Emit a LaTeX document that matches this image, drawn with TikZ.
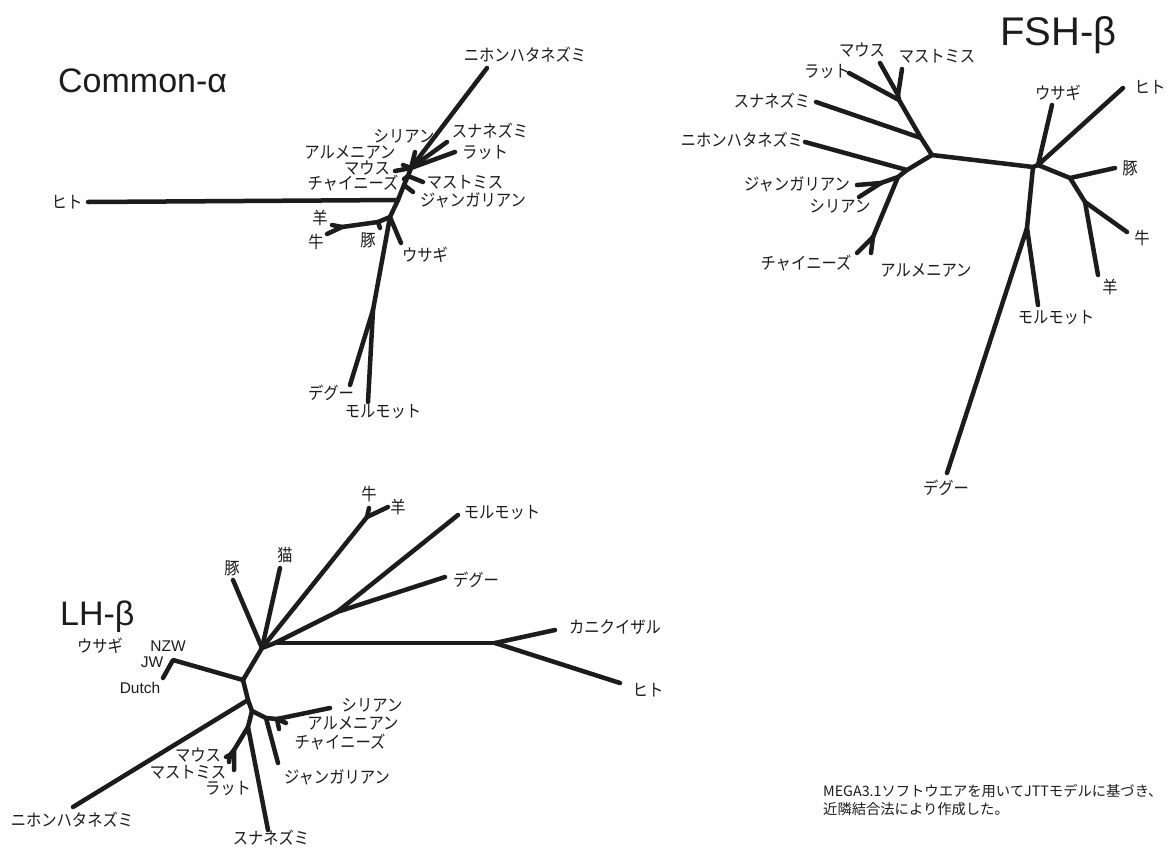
\documentclass[tikz,border=0pt]{standalone}
\usepackage{fontspec}
\setmainfont{Liberation Sans}
\newfontfamily\jp[FakeStretch=0.9]{Noto Sans CJK JP}
\newfontfamily\jpnote{Noto Sans CJK JP}
\definecolor{ink}{HTML}{1C1C1C}
\begin{document}
\begin{tikzpicture}[x=1pt,y=-1pt,
  branch/.style={line width=4.5pt, draw=ink, line cap=round, line join=round},
  lab/.style={font=\jp\fontsize{17}{20}\selectfont, inner sep=0pt, text=ink},
  latin/.style={font=\fontsize{15.5}{18}\selectfont, inner sep=0pt, text=ink},
  heading/.style={font=\fontsize{34}{40}\selectfont, inner sep=0pt, anchor=base west, text=ink}]
\useasboundingbox[fill=white] (0,0) rectangle (1172,849);

% ---------------- Common-alpha ----------------
\node[heading] (tA) at (58,92) {Common-α};
\coordinate (aR) at (411,168);
\coordinate (aNihon) at (487,68);
\coordinate (aSuna) at (447,142);
\coordinate (aRat) at (455,152);
\coordinate (aSyr) at (415,152);
\coordinate (aArm) at (403,165);
\coordinate (aMouse) at (395,171);
\coordinate (aS1) at (408,176);
\coordinate (aChin) at (404,179);
\coordinate (aMast) at (423,182);
\coordinate (aS2) at (404,185);
\coordinate (aJung) at (413,192);
\coordinate (aS3) at (398,200);
\coordinate (aHito) at (88,202);
\coordinate (aS4) at (390,217);
\coordinate (aPigN) at (378,222);
\coordinate (aPig) at (380,228);
\coordinate (aSC) at (342,227);
\coordinate (aSheep) at (332,225);
\coordinate (aCow) at (327,234);
\coordinate (aRabbit) at (401,243);
\coordinate (aS5) at (373,310);
\coordinate (aDegu) at (350,385);
\coordinate (aGuinea) at (368,402);

\draw[branch] (aR) -- (aNihon);
\draw[branch] (aR) -- (aSuna);
\draw[branch] (aR) -- (aRat);
\draw[branch] (aR) -- (aSyr);
\draw[branch] (aR) -- (aArm);
\draw[branch] (aR) -- (aMouse);
\draw[branch] (aR) -- (aS1) -- (aS2) -- (aS3) -- (aS4) -- (aS5);
\draw[branch] (aS1) -- (aChin);
\draw[branch] (aS1) -- (aMast);
\draw[branch] (aS2) -- (aJung);
\draw[branch] (aS3) -- (aHito);
\draw[branch] (aS4) -- (aPigN) -- (aSC);
\draw[branch] (aPigN) -- (aPig);
\draw[branch] (aSC) -- (aSheep);
\draw[branch] (aSC) -- (aCow);
\draw[branch] (aS4) -- (aRabbit);
\draw[branch] (aS5) -- (aDegu);
\draw[branch] (aS5) -- (aGuinea);

\node[lab] (laNihon) at (525,55) {ニホンハタネズミ};
\node[lab] (laSuna) at (490,131) {スナネズミ};
\node[lab] (laRat) at (485,153) {ラット};
\node[lab] (laSyr) at (404,136) {シリアン};
\node[lab] (laArm) at (350,152) {アルメニアン};
\node[lab] (laMouse) at (367,168) {マウス};
\node[lab] (laChin) at (353,183) {チャイニーズ};
\node[lab] (laMast) at (465,182) {マストミス};
\node[lab] (laJung) at (473,200) {ジャンガリアン};
\node[lab] (laHito) at (67,202) {ヒト};
\node[lab] (laSheep) at (320,218) {羊};
\node[lab] (laCow) at (316,242) {牛};
\node[lab] (laPig) at (368,240) {豚};
\node[lab] (laRabbit) at (425,255) {ウサギ};
\node[lab] (laDegu) at (331,393) {デグー};
\node[lab] (laGuinea) at (383,412) {モルモット};

% ---------------- FSH-beta ----------------
\node[heading, font=\fontsize{40}{46}\selectfont] (tF) at (1000,45) {FSH-β};
\coordinate (fR1) at (932,155);
\coordinate (fN1) at (921,138);
\coordinate (fN2) at (899,100);
\coordinate (fN3) at (898,95);
\coordinate (fMouse) at (880,63);
\coordinate (fMast) at (902,69);
\coordinate (fRat) at (849,73);
\coordinate (fSuna) at (816,102);
\coordinate (fN4) at (907,170);
\coordinate (fNihon) at (805,142);
\coordinate (fN5) at (898,177);
\coordinate (fN6) at (881,183);
\coordinate (fJung) at (857,185);
\coordinate (fSyr) at (859,197);
\coordinate (fN7) at (873,237);
\coordinate (fChin) at (857,253);
\coordinate (fArm) at (871,253);
\coordinate (fR2) at (1033,167);
\coordinate (fR3) at (1038,165);
\coordinate (fRabbit) at (1052,105);
\coordinate (fHuman) at (1123,88);
\coordinate (fP) at (1070,178);
\coordinate (fPig) at (1115,168);
\coordinate (fC) at (1085,202);
\coordinate (fCow) at (1127,232);
\coordinate (fSheep) at (1098,275);
\coordinate (fD) at (1027,228);
\coordinate (fGuinea) at (1038,305);
\coordinate (fDegu) at (947,473);

\draw[branch] (fR1) -- (fN1) -- (fN2) -- (fN3);
\draw[branch] (fN3) -- (fMouse);
\draw[branch] (fN3) -- (fMast);
\draw[branch] (fN2) -- (fRat);
\draw[branch] (fN1) -- (fSuna);
\draw[branch] (fR1) -- (fN4) -- (fNihon);
\draw[branch] (fN4) -- (fN5) -- (fN6);
\draw[branch] (fN6) -- (fJung);
\draw[branch] (fN6) -- (fSyr);
\draw[branch] (fN5) -- (fN7);
\draw[branch] (fN7) -- (fChin);
\draw[branch] (fN7) -- (fArm);
\draw[branch] (fR1) -- (fR2) -- (fR3);
\draw[branch] (fR3) -- (fRabbit);
\draw[branch] (fR3) -- (fHuman);
\draw[branch] (fR3) -- (fP) -- (fPig);
\draw[branch] (fP) -- (fC) -- (fCow);
\draw[branch] (fC) -- (fSheep);
\draw[branch] (fR2) -- (fD) -- (fGuinea);
\draw[branch] (fD) -- (fDegu);

\node[lab] (lfMouse) at (862,50) {マウス};
\node[lab] (lfMast) at (937,56) {マストミス};
\node[lab] (lfRat) at (827,72) {ラット};
\node[lab] (lfSuna) at (772,101) {スナネズミ};
\node[lab] (lfNihon) at (742,140) {ニホンハタネズミ};
\node[lab] (lfJung) at (797,184) {ジャンガリアン};
\node[lab] (lfSyr) at (840,206) {シリアン};
\node[lab] (lfChin) at (806,263) {チャイニーズ};
\node[lab] (lfArm) at (926,270) {アルメニアン};
\node[lab] (lfRabbit) at (1058,93) {ウサギ};
\node[lab] (lfHuman) at (1150,87) {ヒト};
\node[lab] (lfPig) at (1130,168) {豚};
\node[lab] (lfCow) at (1142,238) {牛};
\node[lab] (lfSheep) at (1110,287) {羊};
\node[lab] (lfGuinea) at (1056,318) {モルモット};
\node[lab] (lfDegu) at (946,488) {デグー};

% ---------------- LH-beta ----------------
\node[heading] (tL) at (60,625) {LH-β};
\coordinate (lH1) at (262,648);
\coordinate (lH1a) at (275,643);
\coordinate (lPig) at (233,580);
\coordinate (lCat) at (280,568);
\coordinate (lUng) at (367,517);
\coordinate (lCow) at (369,508);
\coordinate (lSheep) at (388,507);
\coordinate (lMD) at (337,612);
\coordinate (lGuinea) at (458,515);
\coordinate (lDegu) at (445,577);
\coordinate (lPrim) at (495,643);
\coordinate (lMacaca) at (555,630);
\coordinate (lHuman) at (620,683);
\coordinate (lH2) at (243,680);
\coordinate (lRab) at (173,660);
\coordinate (lDutch) at (163,678);
\coordinate (lH3) at (248,700);
\coordinate (lNihon) at (73,807);
\coordinate (lH4) at (252,711);
\coordinate (lH5) at (266,718);
\coordinate (lJung) at (278,763);
\coordinate (lH6) at (277,719);
\coordinate (lSyr) at (330,708);
\coordinate (lArm) at (286,723);
\coordinate (lChin) at (279,729);
\coordinate (lH7) at (248,727);
\coordinate (lSuna) at (268,830);
\coordinate (lM1) at (234,750);
\coordinate (lRat) at (234,770);
\coordinate (lM2) at (230,755);
\coordinate (lMouse) at (226,757);
\coordinate (lMast) at (229,762);

\draw[branch] (lH1) -- (lPig);
\draw[branch] (lH1) -- (lCat);
\draw[branch] (lH1) -- (lUng);
\draw[branch] (lUng) -- (lCow);
\draw[branch] (lUng) -- (lSheep);
\draw[branch] (lH1) -- (lH1a) -- (lMD);
\draw[branch] (lMD) -- (lGuinea);
\draw[branch] (lMD) -- (lDegu);
\draw[branch] (lH1a) -- (lPrim);
\draw[branch] (lPrim) -- (lMacaca);
\draw[branch] (lPrim) -- (lHuman);
\draw[branch] (lH1) -- (lH2) -- (lRab) -- (lDutch);
\draw[branch] (lH2) -- (lH3) -- (lNihon);
\draw[branch] (lH3) -- (lH4) -- (lH5) -- (lJung);
\draw[branch] (lH5) -- (lH6) -- (lSyr);
\draw[branch] (lH6) -- (lArm);
\draw[branch] (lH6) -- (lChin);
\draw[branch] (lH4) -- (lH7) -- (lSuna);
\draw[branch] (lH7) -- (lM1) -- (lRat);
\draw[branch] (lM1) -- (lM2) -- (lMouse);
\draw[branch] (lM2) -- (lMast);

\node[lab] (llCow) at (369,494) {牛};
\node[lab] (llSheep) at (398,507) {羊};
\node[lab] (llGuinea) at (502,513) {モルモット};
\node[lab] (llCat) at (285,555) {猫};
\node[lab] (llPig) at (232,568) {豚};
\node[lab] (llDegu) at (476,580) {デグー};
\node[lab] (llMacaca) at (615,627) {カニクイザル};
\node[lab] (llHuman) at (648,690) {ヒト};
\node[lab] (llRabbit) at (100,646) {ウサギ};
\node[latin] (llNZW) at (168,646) {NZW};
\node[latin] (llJW) at (152,662) {JW};
\node[latin] (llDutch) at (140,688) {Dutch};
\node[lab] (llSyr) at (372,705) {シリアン};
\node[lab] (llArm) at (353,723) {アルメニアン};
\node[lab] (llChin) at (340,742) {チャイニーズ};
\node[lab] (llJung) at (337,777) {ジャンガリアン};
\node[lab] (llMouse) at (198,755) {マウス};
\node[lab] (llMast) at (188,772) {マストミス};
\node[lab] (llRat) at (228,789) {ラット};
\node[lab] (llNihon) at (72,820) {ニホンハタネズミ};
\node[lab] (llSuna) at (271,838) {スナネズミ};

% ---------------- method note ----------------
\node[font=\jpnote\fontsize{14.3}{18}\selectfont, inner sep=0pt, anchor=north west, align=left, text=ink] (note) at (823,784)
  {MEGA3.1ソフトウエアを用いてJTTモデルに基づき、\\近隣結合法により作成した。};
\end{tikzpicture}
\end{document}
